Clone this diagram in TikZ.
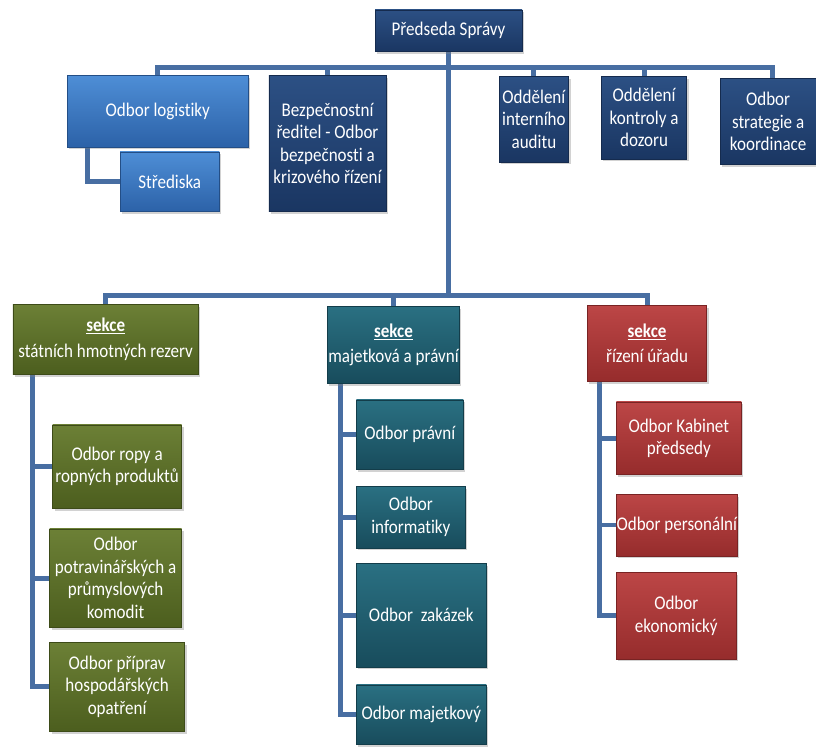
\documentclass[tikz,border=0pt]{standalone}
\usepackage{fontspec}
\setmainfont[FakeStretch=0.88,Ligatures={NoCommon}]{Carlito}
\usetikzlibrary{shadows}
\definecolor{conncol}{RGB}{72,110,162}
\definecolor{ltop}{RGB}{78,142,214}\definecolor{lbot}{RGB}{44,98,168}
\definecolor{ntop}{RGB}{44,80,132}\definecolor{nbot}{RGB}{26,54,98}
\definecolor{gtop}{RGB}{108,128,54}\definecolor{gbot}{RGB}{76,94,30}
\definecolor{ttop}{RGB}{42,112,130}\definecolor{tbot}{RGB}{24,76,92}
\definecolor{rtop}{RGB}{188,70,70}\definecolor{rbot}{RGB}{150,44,44}
\pgfdeclarelayer{bg}\pgfdeclarelayer{paper}\pgfsetlayers{paper,bg,main}
\begin{document}
\begin{tikzpicture}[x=1pt,y=-1pt,
  box/.style={rectangle, inner sep=0pt, align=center, text=white,
    font=\fontsize{19.5}{22.7}\selectfont,
    drop shadow={opacity=0.35, shadow xshift=2pt, shadow yshift=-2.5pt}},
  lblue/.style={box, top color=ltop, bottom color=lbot, draw=lbot!80!black, line width=0.5pt},
  navy/.style={box, top color=ntop, bottom color=nbot, draw=nbot!80!black, line width=0.5pt},
  grn/.style={box, top color=gtop, bottom color=gbot, draw=gbot!80!black, line width=0.5pt},
  teal/.style={box, top color=ttop, bottom color=tbot, draw=tbot!80!black, line width=0.5pt},
  redb/.style={box, top color=rtop, bottom color=rbot, draw=rbot!80!black, line width=0.5pt},
  conn/.style={draw=conncol, line width=5pt},
  sz/.style 2 args={minimum width=#1pt, minimum height=#2pt}]
\begin{pgfonlayer}{paper}
\useasboundingbox[fill=white] (0,0) rectangle (816,753);
\end{pgfonlayer}

% top level
\node[navy, sz={148}{42}] (pres) at (452,31) {Předseda Správy};
\node[lblue, sz={182}{72}] (log) at (159,112) {Odbor logistiky};
\node[lblue, sz={100}{60}] (str) at (171,183) {Střediska};
\node[navy, sz={118}{137}] (bez) at (330,144.5) {Bezpečnostní\\ředitel - Odbor\\bezpečnosti a\\krizového řízení};
\node[navy, sz={70}{86}] (aud) at (538,120) {Oddělení\\interního\\auditu};
\node[navy, sz={86}{83}] (kon) at (649,118.5) {Oddělení\\kontroly a\\dozoru};
\node[navy, sz={96}{87}] (stra) at (774,122.5) {Odbor\\strategie a\\koordinace};

% sections
\node[grn, sz={187}{70}] (g) at (106.5,342) {\textbf{\underline{sekce}}\\[3pt]státních hmotných rezerv};
\node[teal, sz={133}{77}] (t) at (396.5,347.5) {\textbf{\underline{sekce}}\\[3pt]majetková a právní};
\node[redb, sz={120}{76}] (r) at (652,346) {\textbf{\underline{sekce}}\\[3pt]řízení úřadu};

% green children
\node[grn, sz={130}{84}] (g1) at (118,470) {Odbor ropy a\\ropných produktů};
\node[grn, sz={133}{99}] (g2) at (116.5,582.5) {Odbor\\potravinářských a\\průmyslových\\komodit};
\node[grn, sz={136}{90}] (g3) at (118,692) {Odbor příprav\\hospodářských\\opatření};

% teal children
\node[teal, sz={108}{70}] (t1) at (413,438) {Odbor právní};
\node[teal, sz={110}{62}] (t2) at (414,521) {Odbor\\informatiky};
\node[teal, sz={131}{104}] (t3) at (424.5,620) {Odbor\ \ zakázek};
\node[teal, sz={131}{60}] (t4) at (424.5,720) {Odbor majetkový};

% red children
\node[redb, sz={126}{73}] (r1) at (684,441.5) {Odbor Kabinet\\předsedy};
\node[redb, sz={122}{62}] (r2) at (682,529) {Odbor personální};
\node[redb, sz={121}{87}] (r3) at (681.5,620.5) {Odbor\\ekonomický};

\coordinate (busA) at (0,68);
\coordinate (busB) at (0,298);
\coordinate (gx) at (33,0);
\coordinate (tx) at (343,0);
\coordinate (rx) at (604,0);
\coordinate (lx) at (88,0);
\coordinate (sx) at (778,0);

\begin{pgfonlayer}{bg}
  % president bus
  \draw[conn] (pres.south) -- (pres.south |- busB);
  \draw[conn] (log.north) -- (log.north |- busA) -- (sx |- busA) -- (sx |- stra.north);
  \draw[conn] (bez.north) -- (bez.north |- busA);
  \draw[conn] (aud.north) -- (aud.north |- busA);
  \draw[conn] (kon.north) -- (kon.north |- busA);
  \draw[conn] (lx |- log.south) |- (str.west);
  % section bus
  \draw[conn] (g.north) -- (g.north |- busB) -- (r.north |- busB) -- (r.north);
  \draw[conn] (t.north) -- (t.north |- busB);
  % green
  \draw[conn] (gx |- g.south) |- (g3.west);
  \draw[conn] (g1.west) -- (gx |- g1.west);
  \draw[conn] (g2.west) -- (gx |- g2.west);
  % teal
  \draw[conn] (tx |- t.south) |- (t4.west);
  \draw[conn] (t1.west) -- (tx |- t1.west);
  \draw[conn] (t2.west) -- (tx |- t2.west);
  \draw[conn] (t3.west) -- (tx |- t3.west);
  % red
  \draw[conn] (rx |- r.south) |- (r3.west);
  \draw[conn] (r1.west) -- (rx |- r1.west);
  \draw[conn] (r2.west) -- (rx |- r2.west);
\end{pgfonlayer}
\end{tikzpicture}
\end{document}
